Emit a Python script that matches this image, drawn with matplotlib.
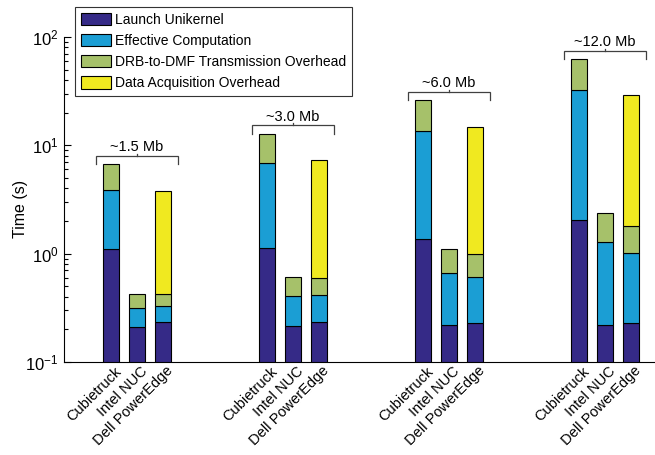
import matplotlib
matplotlib.use("Agg")
import matplotlib.pyplot as plt
import matplotlib.transforms as mtransforms
from matplotlib.ticker import FixedLocator, FixedFormatter, LogLocator, NullFormatter
import numpy as np

plt.rcParams['font.family'] = ['Liberation Sans', 'DejaVu Sans']
plt.rcParams['mathtext.default'] = 'regular'

# data sizes and platforms
sizes = ["~1.5 Mb", "~3.0 Mb", "~6.0 Mb", "~12.0 Mb"]
platforms = ["Cubietruck", "Intel NUC", "Dell PowerEdge"]
stages = ["Launch Unikernel", "Effective Computation",
          "DRB-to-DMF Transmission Overhead", "Data Acquisition Overhead"]

# time per stage (s), rows = data size, cols = platform
launch = [[1.11, 0.212, 0.233],
          [1.14, 0.216, 0.233],
          [1.37, 0.219, 0.230],
          [2.06, 0.220, 0.230]]
compute = [[2.76, 0.104, 0.094],
           [5.80, 0.194, 0.183],
           [12.2, 0.440, 0.384],
           [30.2, 1.070, 0.780]]
transmission = [[2.83, 0.109, 0.098],
                [5.86, 0.204, 0.181],
                [12.5, 0.440, 0.376],
                [30.0, 1.080, 0.800]]
acquisition = [[0.0, 0.0, 3.38],
               [0.0, 0.0, 6.75],
               [0.0, 0.0, 13.7],
               [0.0, 0.0, 27.2]]

colors = ['#352a87', '#1b9ed4', '#a6c16a', '#f0e920']

fig = plt.figure(figsize=(6.55, 4.55), dpi=100)
ax = fig.add_axes([64 / 655, 1 - 362 / 455, 592 / 655, 325 / 455])

width = 0.62
group_step = 6
stacks = [np.array(launch), np.array(compute), np.array(transmission), np.array(acquisition)]

xs_all, labels_all = [], []
for g, size in enumerate(sizes):
    xs = np.arange(3) + 1 + g * group_step
    bottom = np.zeros(3)
    for s, (vals, col) in enumerate(zip(stacks, colors)):
        seg = vals[g]
        mask = seg > 0
        ax.bar(xs[mask], seg[mask], width, bottom=bottom[mask], color=col,
               edgecolor='black', linewidth=0.8, label=stages[s] if g == 0 else None)
        bottom = bottom + seg
    xs_all.extend(xs)
    labels_all.extend(platforms)

    # bracket over the group with the data size
    top = bottom.max()
    yline = top * 1.2
    xl, xr = xs[1] - 1.57, xs[1] + 1.57
    ax.plot([xl, xl, xr, xr], [top, yline, yline, top], color='#404040', lw=0.9,
            solid_joinstyle='miter', clip_on=False)
    ax.plot([xs[1], xs[1]], [yline, yline * 1.04], color='#404040', lw=0.9, clip_on=False)
    ax.annotate(size, (xs[1], yline), xytext=(0, 1), textcoords='offset points',
                ha='center', va='bottom', fontsize=10.5)

ax.set_yscale('log')
ax.set_ylim(0.1, 100)
ax.set_xlim(-0.81, 21.96)

ax.yaxis.set_major_locator(FixedLocator([0.1, 1, 10, 100]))
ax.yaxis.set_major_formatter(FixedFormatter(['$10^{-1}$', '$10^{0}$', '$10^{1}$', '$10^{2}$']))
ax.yaxis.set_minor_locator(LogLocator(base=10, subs=np.arange(2, 10)))
ax.yaxis.set_minor_formatter(NullFormatter())
ax.tick_params(axis='y', which='major', direction='in', length=5, width=0.8, labelsize=12, pad=4)
ax.tick_params(axis='y', which='minor', direction='in', length=3, width=0.8)

ax.set_xticks(xs_all)
ax.set_xticklabels(labels_all, rotation=45, ha='right', va='center',
                   rotation_mode='anchor', fontsize=10.5)
ax.tick_params(axis='x', length=0, pad=5)
shift = mtransforms.ScaledTranslation(0.08, 0, fig.dpi_scale_trans)
for lbl in ax.get_xticklabels():
    lbl.set_transform(lbl.get_transform() + shift)

ax.set_ylabel('Time (s)', fontsize=11.5)
ax.yaxis.set_label_coords(-0.06, 0.47)

for side in ['top', 'right']:
    ax.spines[side].set_visible(False)
for side in ['left', 'bottom']:
    ax.spines[side].set_linewidth(0.8)

leg = fig.legend(loc='upper left', bbox_to_anchor=(75 / 655, 1 - 7 / 455),
                 fontsize=10, frameon=True, fancybox=False, framealpha=1,
                 edgecolor='#333333', borderaxespad=0, borderpad=0.4,
                 handlelength=2.2, handleheight=1.0, handletextpad=0.3,
                 labelspacing=0.52)
leg.get_frame().set_linewidth(0.8)

fig.savefig('out.png', dpi=100)
